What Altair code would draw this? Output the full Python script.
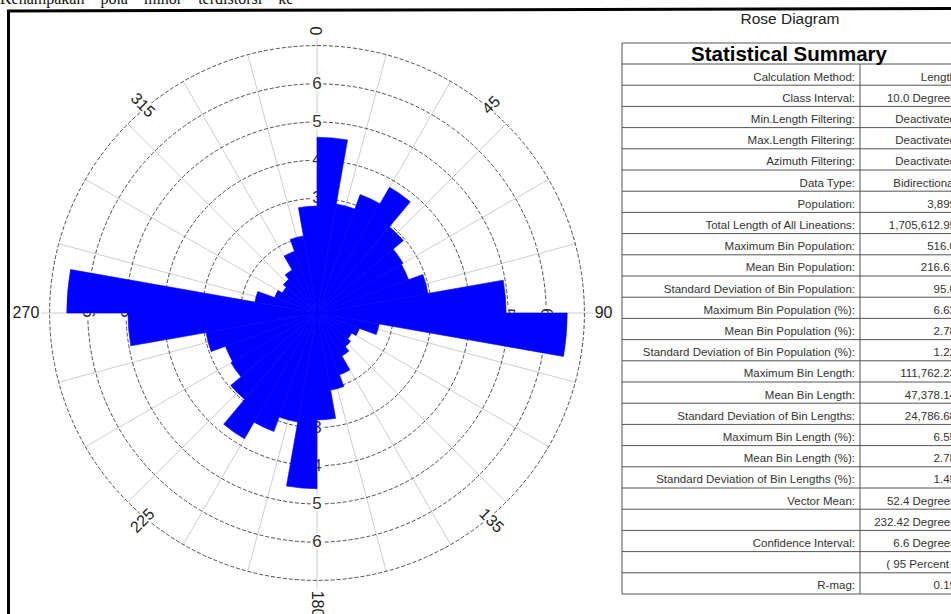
import math
import altair as alt
import pandas as pd

# ---------------- data ----------------
bin_start = list(range(0, 180, 10))
bin_pct = [4.6, 2.9, 3.3, 3.8, 2.95, 2.6, 2.55, 2.95, 4.95,
           6.55, 1.65, 1.18, 1.05, 1.15, 1.3, 1.72, 2.05, 2.8]
ring_values = [1, 2, 3, 4, 5, 6, 7]
ring_label_values = [2, 3, 4, 5, 6]
axis_angles = [0, 90, 180, 270]
spoke_angles = list(range(0, 360, 15))
compass_angles = [0, 45, 90, 135, 180, 225, 270, 315]
compass_labels = ["0", "45", "90", "135", "180", "225", "270", "315"]

stat_labels = [
    "Calculation Method:", "Class Interval:", "Min.Length Filtering:",
    "Max.Length Filtering:", "Azimuth Filtering:", "Data Type:", "Population:",
    "Total Length of All Lineations:", "Maximum Bin Population:",
    "Mean Bin Population:", "Standard Deviation of Bin Population:",
    "Maximum Bin Population (%):", "Mean Bin Population (%):",
    "Standard Deviation of Bin Population (%):", "Maximum Bin Length:",
    "Mean Bin Length:", "Standard Deviation of Bin Lengths:",
    "Maximum Bin Length (%):", "Mean Bin Length (%):",
    "Standard Deviation of Bin Lengths (%):", "Vector Mean:", "",
    "Confidence Interval:", "", "R-mag:"]
stat_values = [
    "Length", "10.0 Degrees", "Deactivated", "Deactivated", "Deactivated",
    "Bidirectional", "3,899", "1,705,612.95", "516.0", "216.61", "95.0",
    "6.62", "2.78", "1.22", "111,762.23", "47,378.14", "24,786.68", "6.55",
    "2.78", "1.45", "52.4 Degrees", "232.42 Degrees", "6.6 Degrees",
    "( 95 Percent )", "0.19"]

top_text = "Kenampakan\u00a0\u00a0\u00a0 pola\u00a0\u00a0\u00a0 minor\u00a0\u00a0\u00a0 terdistorsi\u00a0\u00a0\u00a0 ke"

# ---------------- layout constants ----------------
W, H = 951, 614
CX, CY = 317, 313
UNIT = 38.2
RMAX = 7
RPX = RMAX * UNIT
FONT = "Liberation Sans"

theta_scale = alt.Scale(domain=[0, 360], range=[0, 2 * math.pi])
radius_scale = alt.Scale(type="linear", domain=[0, RMAX], range=[0, RPX], zero=True, nice=False)
xs = alt.Scale(domain=[-RMAX, RMAX], range=[CX - RPX, CX + RPX], nice=False, zero=False)
ys = alt.Scale(domain=[-RMAX, RMAX], range=[CY + RPX, CY - RPX], nice=False, zero=False)
cx = alt.value(CX)
cy = alt.value(CY)

# ---------------- rose ----------------
spokes_df = pd.DataFrame({"a": spoke_angles})
spokes = alt.Chart(spokes_df).transform_calculate(
    len="datum.a % 90 == 0 ? 7.22 : 7",
).transform_calculate(
    x0="0", y0="0",
    x1="datum.len * sin(datum.a * PI / 180)",
    y1="datum.len * cos(datum.a * PI / 180)",
).mark_rule(color="#c8c8c8", strokeWidth=0.9).encode(
    x=alt.X("x0:Q", scale=xs, axis=None),
    y=alt.Y("y0:Q", scale=ys, axis=None),
    x2="x1:Q", y2="y1:Q")

rings = alt.Chart(pd.DataFrame({"r": ring_values})).mark_arc(
    filled=False, stroke="#222222", strokeWidth=0.8, strokeDash=[4, 2],
    theta=0, theta2=2 * math.pi).encode(
    radius=alt.Radius("r:Q", scale=radius_scale, stack=False), x=cx, y=cy)

rl_df = pd.DataFrame([{"a": a, "r": v, "txt": str(v)}
                      for a in axis_angles for v in ring_label_values])
ring_enc = dict(
    theta=alt.Theta("a:Q", scale=theta_scale, stack=False),
    radius=alt.Radius("r:Q", scale=radius_scale, stack=False),
    text="txt:N", angle=alt.Angle("rot:Q", scale=None), x=cx, y=cy)
ring_base = alt.Chart(rl_df).transform_calculate(rot="datum.a % 180 == 0 ? 0 : 90")
ring_halo = ring_base.mark_text(
    font=FONT, fontSize=17, color="white", stroke="white", strokeWidth=4,
    baseline="middle", align="center").encode(**ring_enc)
ring_text = ring_base.mark_text(
    font=FONT, fontSize=17, color="#333333",
    baseline="middle", align="center").encode(**ring_enc)

bars_df = pd.DataFrame({"a0": bin_start + [b + 180 for b in bin_start],
                        "pct": bin_pct + bin_pct})
bars_df["a1"] = bars_df["a0"] + 10
bars = alt.Chart(bars_df).mark_arc(color="#0000FF", stroke="#0000FF", strokeWidth=0.6).encode(
    theta=alt.Theta("a0:Q", scale=theta_scale, stack=False),
    theta2="a1:Q",
    radius=alt.Radius("pct:Q", scale=radius_scale, stack=False),
    x=cx, y=cy)

# compass labels: rotation follows the direction; diagonal labels sit a bit toward N-S axis
comp_base = alt.Chart(pd.DataFrame({"a": compass_angles, "txt": compass_labels})).transform_calculate(
    rot="datum.a == 0 ? 270 : datum.a == 180 ? 90 : datum.a % 180 == 90 ? 0 : "
        "(datum.a == 45 || datum.a == 225 ? 315 : 45)",
    pa="datum.a % 90 == 0 ? datum.a : (datum.a == 45 || datum.a == 225 ? datum.a - 5 : datum.a + 5)",
    r="datum.a % 90 == 0 ? 7.27 : 7.1",
    grp="datum.a % 90 != 0 ? 'C' : (datum.a <= 180 ? 'L' : 'R')",
)
comp_enc = dict(
    theta=alt.Theta("pa:Q", scale=theta_scale, stack=False),
    radius=alt.Radius("r:Q", scale=radius_scale, stack=False),
    text="txt:N", angle=alt.Angle("rot:Q", scale=None), x=cx, y=cy)
comp_layers = []
for g, al in [("L", "left"), ("R", "right"), ("C", "center")]:
    sub = comp_base.transform_filter(f"datum.grp == '{g}'")
    comp_layers.append(sub.mark_text(
        font=FONT, fontSize=16, color="white", stroke="white", strokeWidth=4,
        baseline="middle", align=al).encode(**comp_enc))
    comp_layers.append(sub.mark_text(
        font=FONT, fontSize=16, color="#222222", baseline="middle", align=al).encode(**comp_enc))

# ---------------- table ----------------
TOP, TITLE_BOTTOM, ROW_H = 43, 64, 21.2
TL, TDIV = 622, 860
n_rows = len(stat_labels)
tab_df = pd.DataFrame({"i": list(range(n_rows)), "label": stat_labels, "value": stat_values})
tab_df["yb"] = TITLE_BOTTOM + ROW_H * tab_df["i"] + 16.5

hlines_df = pd.DataFrame({"y": [TOP] + [TITLE_BOTTOM + ROW_H * k for k in range(n_rows + 1)]})
hlines = alt.Chart(hlines_df).mark_rule(color="#555555", strokeWidth=1).encode(
    x=alt.value(TL), x2=alt.value(W), y=alt.Y("y:Q", scale=None))
vlines_df = pd.DataFrame({"x": [TL, TDIV], "y0": [TOP, TITLE_BOTTOM],
                          "y1": [TITLE_BOTTOM + ROW_H * n_rows] * 2})
vlines = alt.Chart(vlines_df).mark_rule(color="#555555", strokeWidth=1).encode(
    x=alt.X("x:Q", scale=None), y=alt.Y("y0:Q", scale=None), y2="y1:Q")

lab_text = alt.Chart(tab_df).mark_text(
    font=FONT, fontSize=11.5, color="#333333", align="right", baseline="alphabetic").encode(
    x=alt.value(855), y=alt.Y("yb:Q", scale=None), text="label:N")
val_text = alt.Chart(tab_df).mark_text(
    font=FONT, fontSize=11.5, color="#333333", align="right", baseline="alphabetic").encode(
    x=alt.value(956), y=alt.Y("yb:Q", scale=None), text="value:N")

titles_n = alt.Chart(pd.DataFrame({"t": ["Rose Diagram"]})).mark_text(
    font=FONT, fontSize=15.5, color="#222222", align="center", baseline="alphabetic").encode(
    x=alt.value(790), y=alt.value(23.5), text="t:N")
titles_b = alt.Chart(pd.DataFrame({"t": ["Statistical Summary"]})).mark_text(
    font=FONT, fontSize=20.5, fontWeight="bold", color="#000000", align="center",
    baseline="alphabetic").encode(x=alt.value(789), y=alt.value(61), text="t:N")

# ---------------- page frame + cut-off text ----------------
frame_top = alt.Chart(pd.DataFrame({"k": [0]})).mark_rule(color="black", strokeWidth=3).encode(
    x=alt.value(7), x2=alt.value(W), y=alt.value(11), y2=alt.value(8.5))
frame_left = alt.Chart(pd.DataFrame({"k": [0]})).mark_rule(color="black", strokeWidth=3).encode(
    x=alt.value(8.5), x2=alt.value(8.5), y=alt.value(10), y2=alt.value(H))
top_txt = alt.Chart(pd.DataFrame({"t": [top_text]})).mark_text(
    font="Liberation Serif", fontSize=16, color="#111111", align="left",
    baseline="alphabetic").encode(x=alt.value(0), y=alt.value(3.5), text="t:N")

chart = alt.layer(
    spokes, rings, ring_halo, ring_text, bars, *comp_layers,
    hlines, vlines, lab_text, val_text, titles_n, titles_b,
    frame_top, frame_left, top_txt
).resolve_scale(x="independent", y="independent").properties(
    width=W, height=H, padding=0, autosize=alt.AutoSizeParams(type="none"),
    background="white"
).configure_view(strokeWidth=0)

chart.save("out.html", embed_options={"renderer": "svg", "actions": False})
